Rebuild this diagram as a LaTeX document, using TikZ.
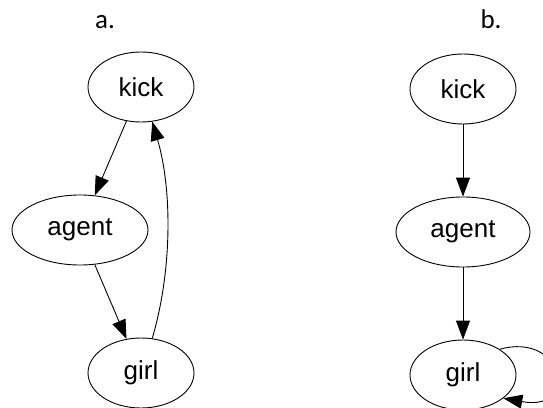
\documentclass[tikz,border=0pt]{standalone}
\usepackage{fontspec}
\setmainfont{Liberation Sans}
\newfontfamily\labelfont{Carlito}
\usetikzlibrary{shapes.geometric,arrows.meta}
\tikzset{
  gnode/.style={draw, ellipse, line width=0.9pt, inner sep=0pt, minimum width=106pt, minimum height=70pt, font=\fontsize{26}{30}\selectfont},
  wnode/.style={gnode, minimum width=136pt},
  arr/.style={draw, line width=0.9pt, -{Triangle[length=19pt,width=14pt]}},
  plabel/.style={anchor=base, inner sep=0pt, font=\labelfont\fontsize{27}{30}\selectfont}
}
\begin{document}
\begin{tikzpicture}[x=1pt,y=-1pt]
\useasboundingbox (0,0) rectangle (543,407);
\clip (0,0) rectangle (543,407);
% panel a
\node[plabel] (la) at (105,28) {a.};
\node[gnode] (kA) at (141,87) {kick};
\node[wnode] (aA) at (80,230) {agent};
\node[gnode] (gA) at (141,373) {girl};
\draw[arr] (kA) -- (aA);
\draw[arr] (aA) -- (gA);
\draw[arr] (gA.72) .. controls +(20,-68) and +(20,68) .. (kA.-72);
% panel b
\node[plabel] (lb) at (491,28) {b.};
\node[gnode] (kB) at (463,89) {kick};
\node[wnode, minimum width=134pt] (aB) at (463,232) {agent};
\node[gnode] (gB) at (463,375) {girl};
\draw[arr] (kB) -- (aB);
\draw[arr] (aB) -- (gB);
\draw[arr] (gB.35) .. controls +(64,-18) and +(78,14) .. (gB.-30);
\end{tikzpicture}
\end{document}
